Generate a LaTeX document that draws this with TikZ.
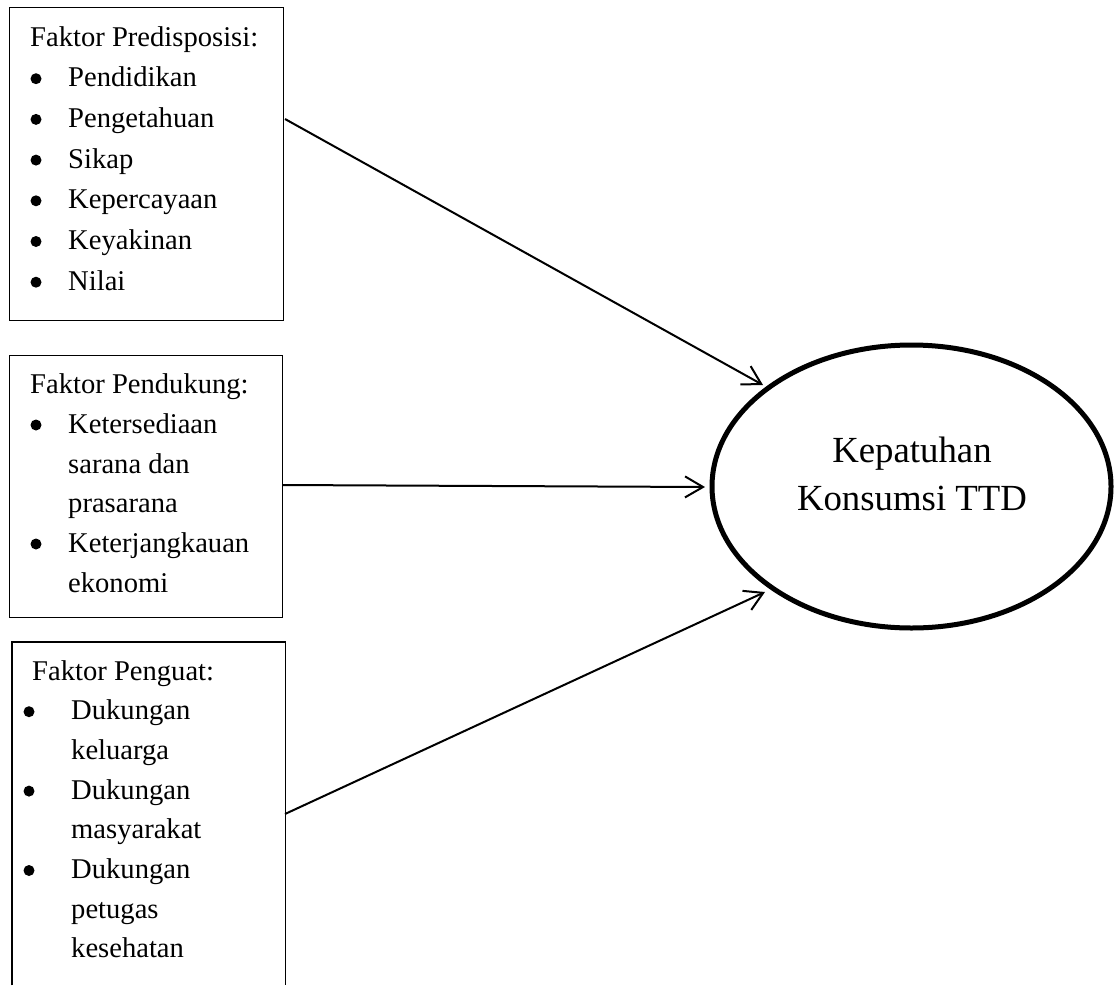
\documentclass[tikz,border=0pt]{standalone}
\usepackage{fontspec}
\setmainfont{Liberation Serif}
\usetikzlibrary{shapes.geometric,arrows.meta}
\tikzset{
  boxframe/.style={draw, line width=1.3pt, inner sep=0pt, anchor=north west},
  boxtext/.style={anchor=base west, inner sep=0pt, font=\fontsize{28.6}{40}\selectfont},
  bul/.style={circle, fill=black, inner sep=0pt, minimum size=11pt},
  arr/.style={line width=2pt, -{Straight Barb[length=18pt,width=21pt,line width=2pt]}},
  etext/.style={anchor=base, inner sep=0pt, font=\fontsize{36.8}{48}\selectfont}
}
\begin{document}
\begin{tikzpicture}[x=1pt,y=-1pt]
\useasboundingbox (0,0) rectangle (1115,985);
% Box 1
\node[boxframe, minimum width=274pt, minimum height=313pt] (b1) at (9,7) {};
\node[boxtext] (h1) at (30,46) {Faktor Predisposisi:};
\foreach \t [count=\i] in {Pendidikan,Pengetahuan,Sikap,Kepercayaan,Keyakinan,Nilai}{
  \node[bul] (d1\i) at (36,{46+40.7*\i-8}) {};
  \node[boxtext] (i1\i) at (68,{46+40.7*\i}) {\t};
}
% Box 2
\node[boxframe, minimum width=273pt, minimum height=262pt] (b2) at (9,355) {};
\node[boxtext] (h2) at (30,393) {Faktor Pendukung:};
\node[bul] (d21) at (36,{433-8}) {};
\node[boxtext] (i21) at (68,433) {Ketersediaan};
\node[boxtext] (i22) at (68,473) {sarana dan};
\node[boxtext] (i23) at (68,512.5) {prasarana};
\node[bul] (d22) at (36,{552-8}) {};
\node[boxtext] (i24) at (68,552) {Keterjangkauan};
\node[boxtext] (i25) at (68,592) {ekonomi};
% Box 3 (open at the bottom)
\node[inner sep=0pt, anchor=north west, minimum width=273pt, minimum height=343pt] (b3) at (12,642) {};
\draw[line width=1.3pt] (b3.south west) -- (b3.north west) -- (b3.north east) -- (b3.south east);
\node[boxtext] (h3) at (32,680) {Faktor Penguat:};
\node[bul] (d31) at (29,{719.7-8}) {};
\node[boxtext] (i31) at (71,719.7) {Dukungan};
\node[boxtext] (i32) at (71,759.4) {keluarga};
\node[bul] (d32) at (29,{799.1-8}) {};
\node[boxtext] (i33) at (71,799.1) {Dukungan};
\node[boxtext] (i34) at (71,838.8) {masyarakat};
\node[bul] (d33) at (29,{878.5-8}) {};
\node[boxtext] (i35) at (71,878.5) {Dukungan};
\node[boxtext] (i36) at (71,918.2) {petugas};
\node[boxtext] (i37) at (71,957.9) {kesehatan};
% Ellipse
\node[draw, ellipse, line width=5pt, minimum width=399pt, minimum height=283pt, inner sep=0pt, outer sep=0pt] (e) at (911.5,486.5) {};
\node[etext] (k1) at (912,462) {Kepatuhan};
\node[etext] (k2) at (912,510) {Konsumsi TTD};
% Connectors
\coordinate (s1) at (285,119);
\coordinate (t1) at (763,385);
\coordinate (s2) at (282,485);
\coordinate (t2) at (705,487);
\coordinate (s3) at (285,814);
\coordinate (t3) at (765,592);
\draw[arr] (s1) -- (t1);
\draw[arr] (s2) -- (t2);
\draw[arr] (s3) -- (t3);
\end{tikzpicture}
\end{document}
